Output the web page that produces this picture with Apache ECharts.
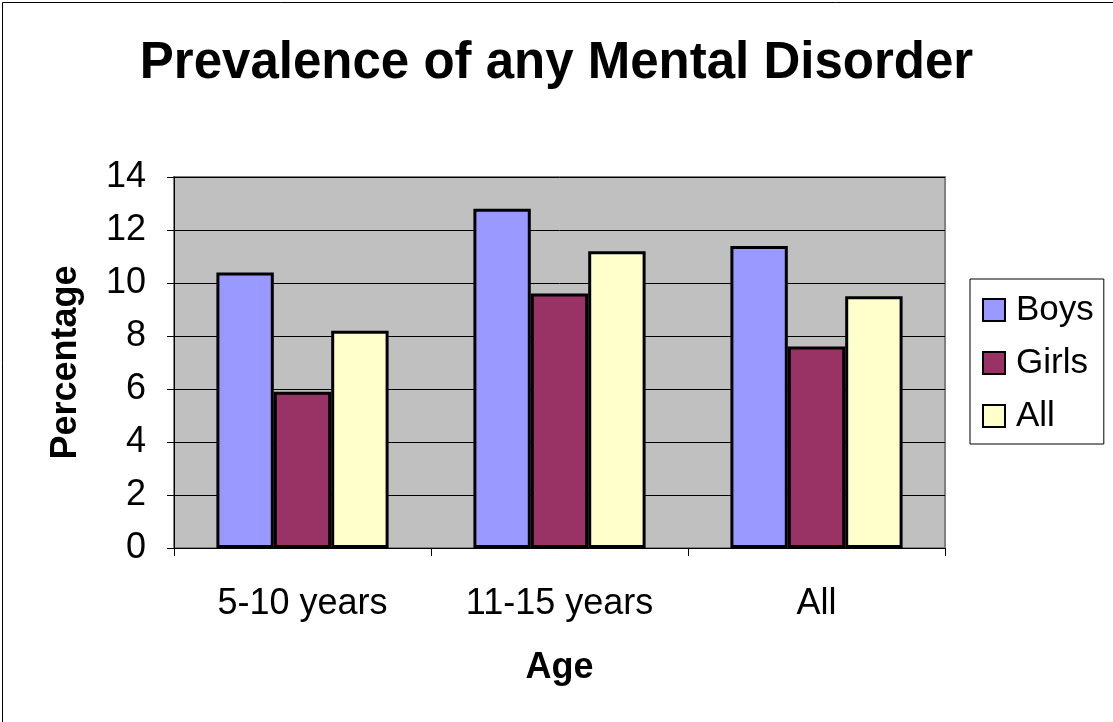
<!DOCTYPE html>
<html>
<head>
<meta charset="utf-8">
<script src="https://cdn.jsdelivr.net/npm/echarts@6/dist/echarts.min.js"></script>
<style>
html,body{margin:0;padding:0;background:#fff;}
#c{width:1113px;height:722px;}
</style>
</head>
<body>
<div id="c"></div>
<script>
const categories = ['5-10 years', '11-15 years', 'All'];
const seriesNames = ['Boys', 'Girls', 'All'];
const boys = [10.4, 12.8, 11.4];
const girls = [5.9, 9.6, 7.6];
const all = [8.2, 11.2, 9.5];
const colors = ['#9999FF', '#993366', '#FFFFCC'];
const yTicks = { min: 0, max: 14, interval: 2 };

const chart = echarts.init(document.getElementById('c'), null, { renderer: 'canvas' });
const font = 'Liberation Sans, Arial, sans-serif';
const data = [boys, girls, all];
chart.setOption({
  backgroundColor: '#fff',
  animation: false,
  title: {
    text: 'Prevalence of any Mental Disorder',
    left: 'center', top: 33,
    textStyle: { fontFamily: font, fontSize: 51, fontWeight: 'bold', color: '#000' }
  },
  graphic: [{
    type: 'rect', left: 0, top: 0,
    shape: { x: 0.5, y: 0.5, width: 1111, height: 740 },
    style: { fill: 'none', stroke: '#000', lineWidth: 1 },
    z: 100
  }],
  legend: {
    orient: 'vertical', left: 970, top: 279,
    data: seriesNames,
    icon: 'rect', itemWidth: 22, itemHeight: 22, itemGap: 17,
    padding: [13, 10, 10, 12],
    borderColor: '#000', borderWidth: 1, backgroundColor: '#fff',
    itemStyle: { borderColor: '#000', borderWidth: 2 },
    textStyle: { fontFamily: font, fontSize: 35, lineHeight: 36, color: '#000', padding: [0, 0, 0, 6] },
    selectedMode: false
  },
  grid: {
    left: 174, right: 168, top: 177, bottom: 174,
    show: true, backgroundColor: '#C0C0C0', borderColor: '#808080', borderWidth: 2
  },
  xAxis: {
    type: 'category', data: categories,
    name: 'Age', nameLocation: 'middle', nameGap: 102,
    nameTextStyle: { fontFamily: font, fontSize: 36, fontWeight: 'bold', color: '#000' },
    axisLine: { lineStyle: { color: '#000', width: 1 } },
    axisTick: { show: true, length: 8, lineStyle: { color: '#000' } },
    axisLabel: { fontFamily: font, fontSize: 36, color: '#000', margin: 38 },
    splitLine: { show: false }
  },
  yAxis: {
    type: 'value', min: yTicks.min, max: yTicks.max, interval: yTicks.interval,
    name: 'Percentage', nameLocation: 'middle', nameGap: 90, nameRotate: 90,
    nameTextStyle: { fontFamily: font, fontSize: 36, fontWeight: 'bold', color: '#000' },
    axisLine: { show: true, lineStyle: { color: '#000', width: 1 } },
    axisTick: { show: true, length: 7, lineStyle: { color: '#000' } },
    axisLabel: { fontFamily: font, fontSize: 36, color: '#000', margin: 28 },
    splitLine: { show: true, lineStyle: { color: '#000', width: 1 } }
  },
  series: seriesNames.map((n, i) => ({
    name: n, type: 'bar', data: data[i],
    barGap: '0%', barCategoryGap: '33%',
    itemStyle: { color: colors[i], borderColor: '#000', borderWidth: 3 }
  }))
});
</script>
</body>
</html>
